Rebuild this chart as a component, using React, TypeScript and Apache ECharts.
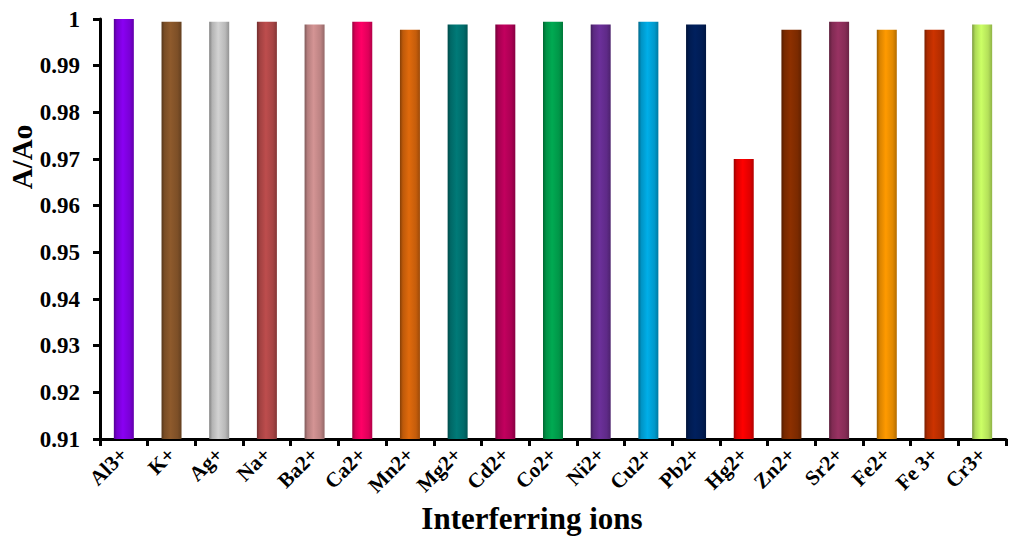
import React, { useEffect, useRef } from "react";
import * as echarts from "echarts";

const categories = ["Al3+", "K+", "Ag+", "Na+", "Ba2+", "Ca2+", "Mn2+", "Mg2+", "Cd2+", "Co2+", "Ni2+", "Cu2+", "Pb2+", "Hg2+", "Zn2+", "Sr2+", "Fe2+", "Fe 3+", "Cr3+"];
const values = [1.0, 0.9994, 0.9994, 0.9994, 0.9988, 0.9994, 0.9977, 0.9988, 0.9988, 0.9994, 0.9988, 0.9994, 0.9988, 0.97, 0.9977, 0.9994, 0.9977, 0.9977, 0.9988];
const colors = ["#8a00f2", "#8e5a2c", "#d2d2d2", "#bd4d4d", "#d49494", "#ff0066", "#e06a0c", "#007a78", "#c2005e", "#00aa52", "#6c309a", "#00aee8", "#00205e", "#ff0000", "#8c3000", "#983262", "#ff9a00", "#cc3300", "#ccff66"];
const yAxisTitle = "A/Ao";
const xAxisTitle = "Interferring ions";

function darken(hex: string, f: number) {
  const n = parseInt(hex.slice(1), 16);
  const r = Math.round(((n >> 16) & 255) * f);
  const g = Math.round(((n >> 8) & 255) * f);
  const b = Math.round((n & 255) * f);
  return `rgb(${r},${g},${b})`;
}

export default function App() {
  const ref = useRef<HTMLDivElement>(null);
  useEffect(() => {
    const chart = echarts.init(ref.current!, undefined, { renderer: "svg" });
    const font = "'Liberation Serif', 'Times New Roman', serif";
    chart.setOption({
      animation: false,
      grid: { left: 100, right: 4, top: 19, bottom: 98, containLabel: false },
      graphic: [
        {
          type: "text",
          x: 22,
          y: 157,
          rotation: Math.PI / 2,
          style: { text: yAxisTitle, fontFamily: font, fontWeight: "bold", fontSize: 29, fill: "#000", align: "center", verticalAlign: "middle" },
        },
        {
          type: "text",
          x: 532,
          y: 518,
          style: { text: xAxisTitle, fontFamily: font, fontWeight: "bold", fontSize: 31, fill: "#000", align: "center", verticalAlign: "middle" },
        },
      ],
      xAxis: {
        type: "category",
        data: categories,
        axisLine: { lineStyle: { color: "#000", width: 3 } },
        axisTick: { show: true, alignWithLabel: false, length: 7, lineStyle: { width: 3, color: "#000" } },
        axisLabel: { rotate: 45, interval: 0, fontFamily: font, fontWeight: "bold", fontSize: 21, color: "#000", margin: 12 },
      },
      yAxis: {
        type: "value",
        min: 0.91,
        max: 1,
        interval: 0.01,
        axisLine: { show: true, lineStyle: { color: "#000", width: 3 } },
        axisTick: { show: true, length: 7, lineStyle: { width: 3, color: "#000" } },
        splitLine: { show: false },
        axisLabel: {
          fontFamily: font, fontWeight: "bold", fontSize: 23, color: "#000", margin: 20,
          formatter: (v: number) => String(parseFloat(v.toFixed(2))),
        },
      },
      series: [
        {
          type: "bar",
          barWidth: 20,
          data: values.map((v, i) => ({
            value: v,
            itemStyle: {
              color: new echarts.graphic.LinearGradient(0, 0, 1, 0, [
                { offset: 0, color: darken(colors[i], 0.6) },
                { offset: 0.15, color: darken(colors[i], 0.85) },
                { offset: 0.45, color: colors[i] },
                { offset: 0.8, color: darken(colors[i], 0.88) },
                { offset: 1, color: darken(colors[i], 0.7) },
              ]),
            },
          })),
        },
      ],
    });
    return () => chart.dispose();
  }, []);
  return <div ref={ref} style={{ position: "absolute", left: 0, top: 0, width: 1010, height: 537 }} />;
}
